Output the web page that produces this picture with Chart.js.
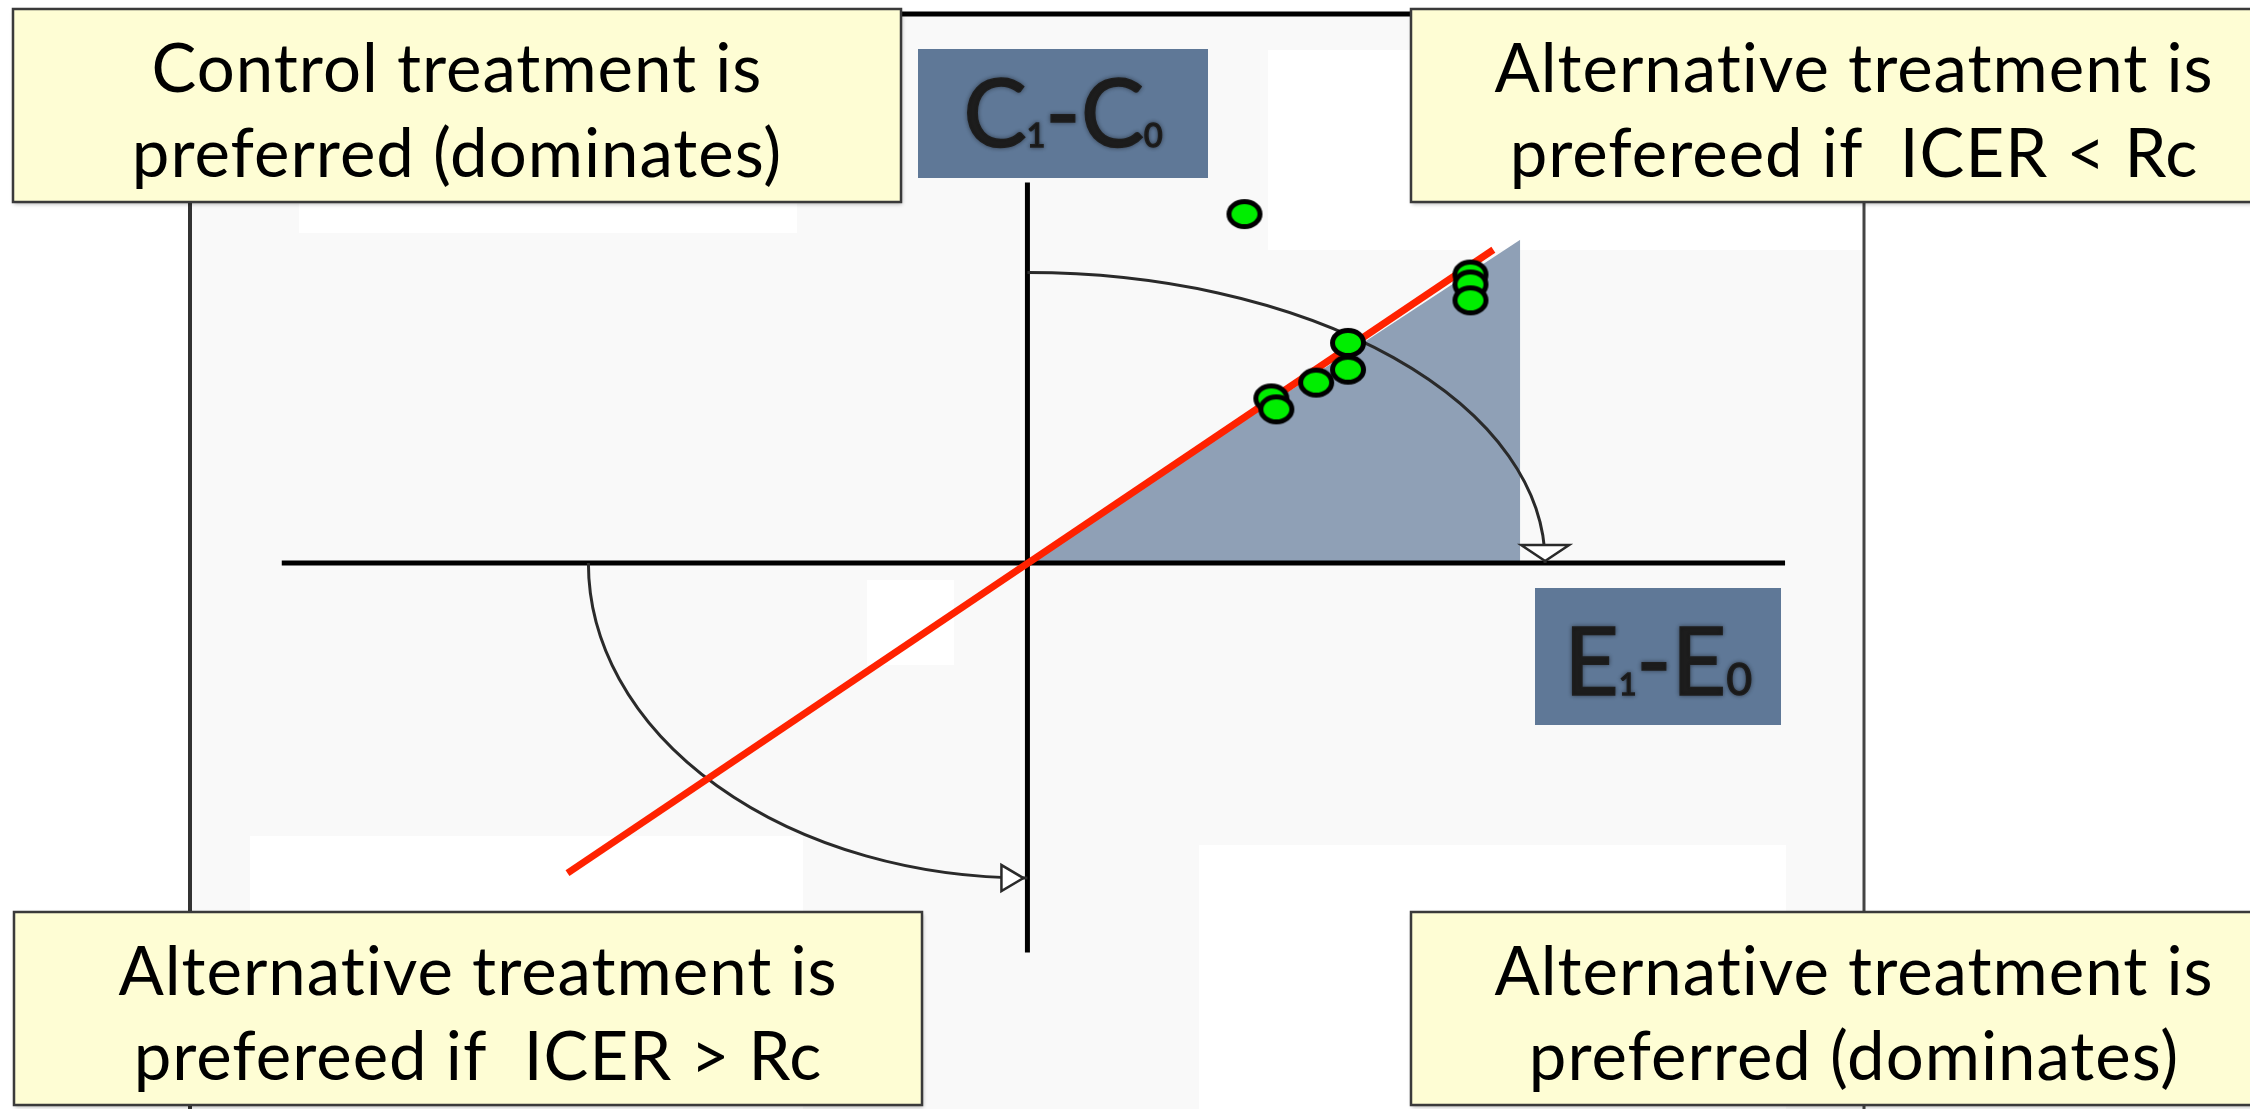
<!DOCTYPE html>
<html>
<head>
<meta charset="utf-8">
<script src="https://cdn.jsdelivr.net/npm/chart.js@4.4.0/dist/chart.umd.min.js"></script>
<style>
  body { margin: 0; background: #fff; }
  #wrap { width: 2250px; height: 1109px; }
</style>
</head>
<body>
<div id="wrap"><canvas id="planeChart"></canvas></div>
<script>
// cost-effectiveness plane: units are arbitrary (E1-E0 across, C1-C0 up)
const effectDiff = [2.18, 4.45, 4.45, 4.45, 3.22, 3.22, 2.90, 2.45, 2.50];
const costDiff   = [3.52, 2.91, 2.81, 2.65, 2.22, 1.95, 1.82, 1.66, 1.55];

// willingness-to-pay threshold line (Rc)
const rcLineX = [-4.62, 4.68];
const rcLineY = [-3.13, 3.16];

// shaded acceptable region (below the threshold, NE quadrant)
const shadeX = [0, 4.95];
const shadeY = [0, 3.26];

// axis extents
const xAxisX = [-7.49, 7.61];
const yAxisY = [-3.93, 3.84];

// rotation arcs (radii along x and y)
const upperArc = [5.20, 2.93];
const lowerArc = [4.41, 3.18];

const quadrantText = [
  ['Control treatment is', 'preferred (dominates)'],
  ['Alternative treatment is', 'prefereed if  ICER < Rc'],
  ['Alternative treatment is', 'prefereed if  ICER > Rc'],
  ['Alternative treatment is', 'preferred (dominates)']
];

function pairs(xs, ys) {
  return xs.map((x, i) => ({ x: x, y: ys[i] }));
}

// green elliptical marker
const dot = document.createElement('canvas');
dot.width = 38; dot.height = 32;
(function () {
  const c = dot.getContext('2d');
  c.beginPath();
  c.ellipse(19, 16, 15.5, 12.5, 0, 0, Math.PI * 2);
  c.fillStyle = '#00ee00';
  c.fill();
  c.lineWidth = 5;
  c.strokeStyle = '#000';
  c.stroke();
})();

const FONT = 'Lato, "Open Sans", sans-serif';

function box(ctx, x, y, w, h, fill) {
  ctx.save();
  ctx.shadowColor = 'rgba(0,0,0,0.3)';
  ctx.shadowBlur = 4;
  ctx.shadowOffsetX = 1;
  ctx.shadowOffsetY = 2;
  ctx.fillStyle = fill;
  ctx.fillRect(x, y, w, h);
  ctx.restore();
}

function axisLabel(ctx, x, y, w, h, parts, baseline) {
  ctx.save();
  ctx.fillStyle = '#5f7897';
  ctx.fillRect(x, y, w, h);
  let total = 0;
  parts.forEach(p => {
    ctx.font = p[1] + 'px ' + FONT;
    total += ctx.measureText(p[0]).width;
  });
  let cx = x + (w - total) / 2;
  ctx.fillStyle = '#1e1e1e';
  ctx.strokeStyle = '#1e1e1e';
  ctx.lineWidth = 1.5;
  ctx.shadowColor = 'rgba(0,0,0,0.4)';
  ctx.shadowBlur = 4;
  ctx.textBaseline = 'alphabetic';
  parts.forEach(p => {
    ctx.font = p[1] + 'px ' + FONT;
    ctx.fillText(p[0], cx, baseline);
    ctx.strokeText(p[0], cx, baseline);
    cx += ctx.measureText(p[0]).width;
  });
  ctx.restore();
}

const planeDecor = {
  id: 'planeDecor',
  beforeDraw(chart) {
    const ctx = chart.ctx;
    ctx.save();
    // scanned figure background
    ctx.fillStyle = '#f9f9f9';
    ctx.fillRect(190, 14, 1674, 1095);
    ctx.fillStyle = '#ffffff';
    ctx.fillRect(1268, 50, 596, 200);
    ctx.fillRect(299, 202, 498, 31);
    ctx.fillRect(1199, 845, 587, 264);
    ctx.fillRect(867, 580, 87, 85);
    ctx.fillRect(250, 836, 553, 273);
    ctx.strokeStyle = '#333';
    ctx.lineWidth = 4;
    ctx.beginPath();
    ctx.moveTo(190, 14); ctx.lineTo(190, 1109);
    ctx.stroke();
    ctx.lineWidth = 3;
    ctx.strokeStyle = '#444';
    ctx.beginPath();
    ctx.moveTo(1864, 14); ctx.lineTo(1864, 1109);
    ctx.stroke();
    ctx.lineWidth = 5;
    ctx.strokeStyle = '#000';
    ctx.beginPath();
    ctx.moveTo(190, 14); ctx.lineTo(1864, 14);
    ctx.stroke();
    ctx.restore();
  },
  afterDatasetDraw(chart, args) {
    if (args.index !== 2) return;
    const ctx = chart.ctx;
    const xs = chart.scales.x, ys = chart.scales.y;
    const ox = xs.getPixelForValue(0), oy = ys.getPixelForValue(0);
    ctx.save();
    ctx.strokeStyle = '#2a2a2a';
    ctx.lineWidth = 3;
    // upper arc: y axis -> x axis
    const urx = xs.getPixelForValue(upperArc[0]) - ox;
    const ury = oy - ys.getPixelForValue(upperArc[1]);
    ctx.beginPath();
    ctx.ellipse(ox, oy, urx, ury, 0, -Math.PI / 2, 0);
    ctx.stroke();
    // lower arc: x axis -> y axis
    const lrx = ox - xs.getPixelForValue(-lowerArc[0]);
    const lry = ys.getPixelForValue(-lowerArc[1]) - oy;
    ctx.beginPath();
    ctx.ellipse(ox, oy, lrx, lry, 0, Math.PI / 2, Math.PI);
    ctx.stroke();
    // open arrowheads
    ctx.fillStyle = '#fff';
    ctx.lineWidth = 2.5;
    let tx = ox + urx, ty = oy - 2;
    ctx.beginPath();
    ctx.moveTo(tx - 24, ty - 16);
    ctx.lineTo(tx + 24, ty - 16);
    ctx.lineTo(tx, ty);
    ctx.closePath();
    ctx.fill(); ctx.stroke();
    tx = ox - 4; ty = oy + lry;
    ctx.beginPath();
    ctx.moveTo(tx - 22, ty - 13);
    ctx.lineTo(tx - 22, ty + 13);
    ctx.lineTo(tx, ty);
    ctx.closePath();
    ctx.fill(); ctx.stroke();
    ctx.restore();
  },
  afterDatasetsDraw(chart) {
    const ctx = chart.ctx;
    const boxes = [
      [13, 9, 888, 193, 457],
      [1411, 9, 890, 193, 1854],
      [14, 912, 908, 193, 478],
      [1411, 912, 890, 193, 1854]
    ];
    ctx.save();
    ctx.letterSpacing = '1px';
    ctx.font = '70px ' + FONT;
    const fit = 70 * 718 / ctx.measureText('Alternative treatment is').width;
    boxes.forEach((b, i) => {
      box(ctx, b[0], b[1], b[2], b[3], '#fefdd4');
      ctx.strokeStyle = '#3a3a3a';
      ctx.lineWidth = 2.5;
      ctx.strokeRect(b[0], b[1], b[2], b[3]);
      ctx.fillStyle = '#000';
      ctx.textAlign = 'center';
      ctx.textBaseline = 'alphabetic';
      ctx.font = fit.toFixed(1) + 'px ' + FONT;
      ctx.fillText(quadrantText[i][0], b[4], b[1] + 83);
      ctx.fillText(quadrantText[i][1], b[4], b[1] + 168);
    });
    ctx.restore();
    axisLabel(ctx, 918, 49, 290, 129,
      [['C', 95], ['1', 32], ['-', 95], ['C', 95], ['0', 32]], 147);
    axisLabel(ctx, 1535, 588, 246, 137,
      [['E', 95], ['1', 30], ['-', 95], ['E', 95], ['0', 44]], 695);
  }
};

new Chart(document.getElementById('planeChart'), {
  type: 'scatter',
  data: {
    datasets: [
      {
        label: 'Simulations',
        data: pairs(effectDiff, costDiff),
        pointStyle: dot,
        order: 0
      },
      {
        type: 'line',
        label: 'Rc',
        data: pairs(rcLineX, rcLineY),
        borderColor: '#ff2200',
        borderWidth: 7,
        pointRadius: 0,
        fill: false,
        order: 1
      },
      {
        type: 'line',
        label: 'E1-E0',
        data: pairs(xAxisX, [0, 0]),
        borderColor: '#000',
        borderWidth: 5,
        pointRadius: 0,
        fill: false,
        order: 2
      },
      {
        type: 'line',
        label: 'C1-C0',
        data: pairs([0, 0], yAxisY),
        borderColor: '#000',
        borderWidth: 5,
        pointRadius: 0,
        fill: false,
        order: 3
      },
      {
        type: 'line',
        label: 'Acceptable',
        data: pairs(shadeX, shadeY),
        borderWidth: 0,
        borderColor: 'rgba(0,0,0,0)',
        backgroundColor: '#8fa0b6',
        pointRadius: 0,
        fill: 'origin',
        order: 5
      }
    ]
  },
  options: {
    responsive: true,
    maintainAspectRatio: false,
    animation: false,
    layout: { padding: 0 },
    scales: {
      x: { type: 'linear', display: false, min: -10.27, max: 12.23 },
      y: { type: 'linear', display: false, min: -5.46, max: 5.63 }
    },
    plugins: {
      legend: { display: false },
      tooltip: { enabled: false }
    }
  },
  plugins: [planeDecor]
});
</script>
</body>
</html>
